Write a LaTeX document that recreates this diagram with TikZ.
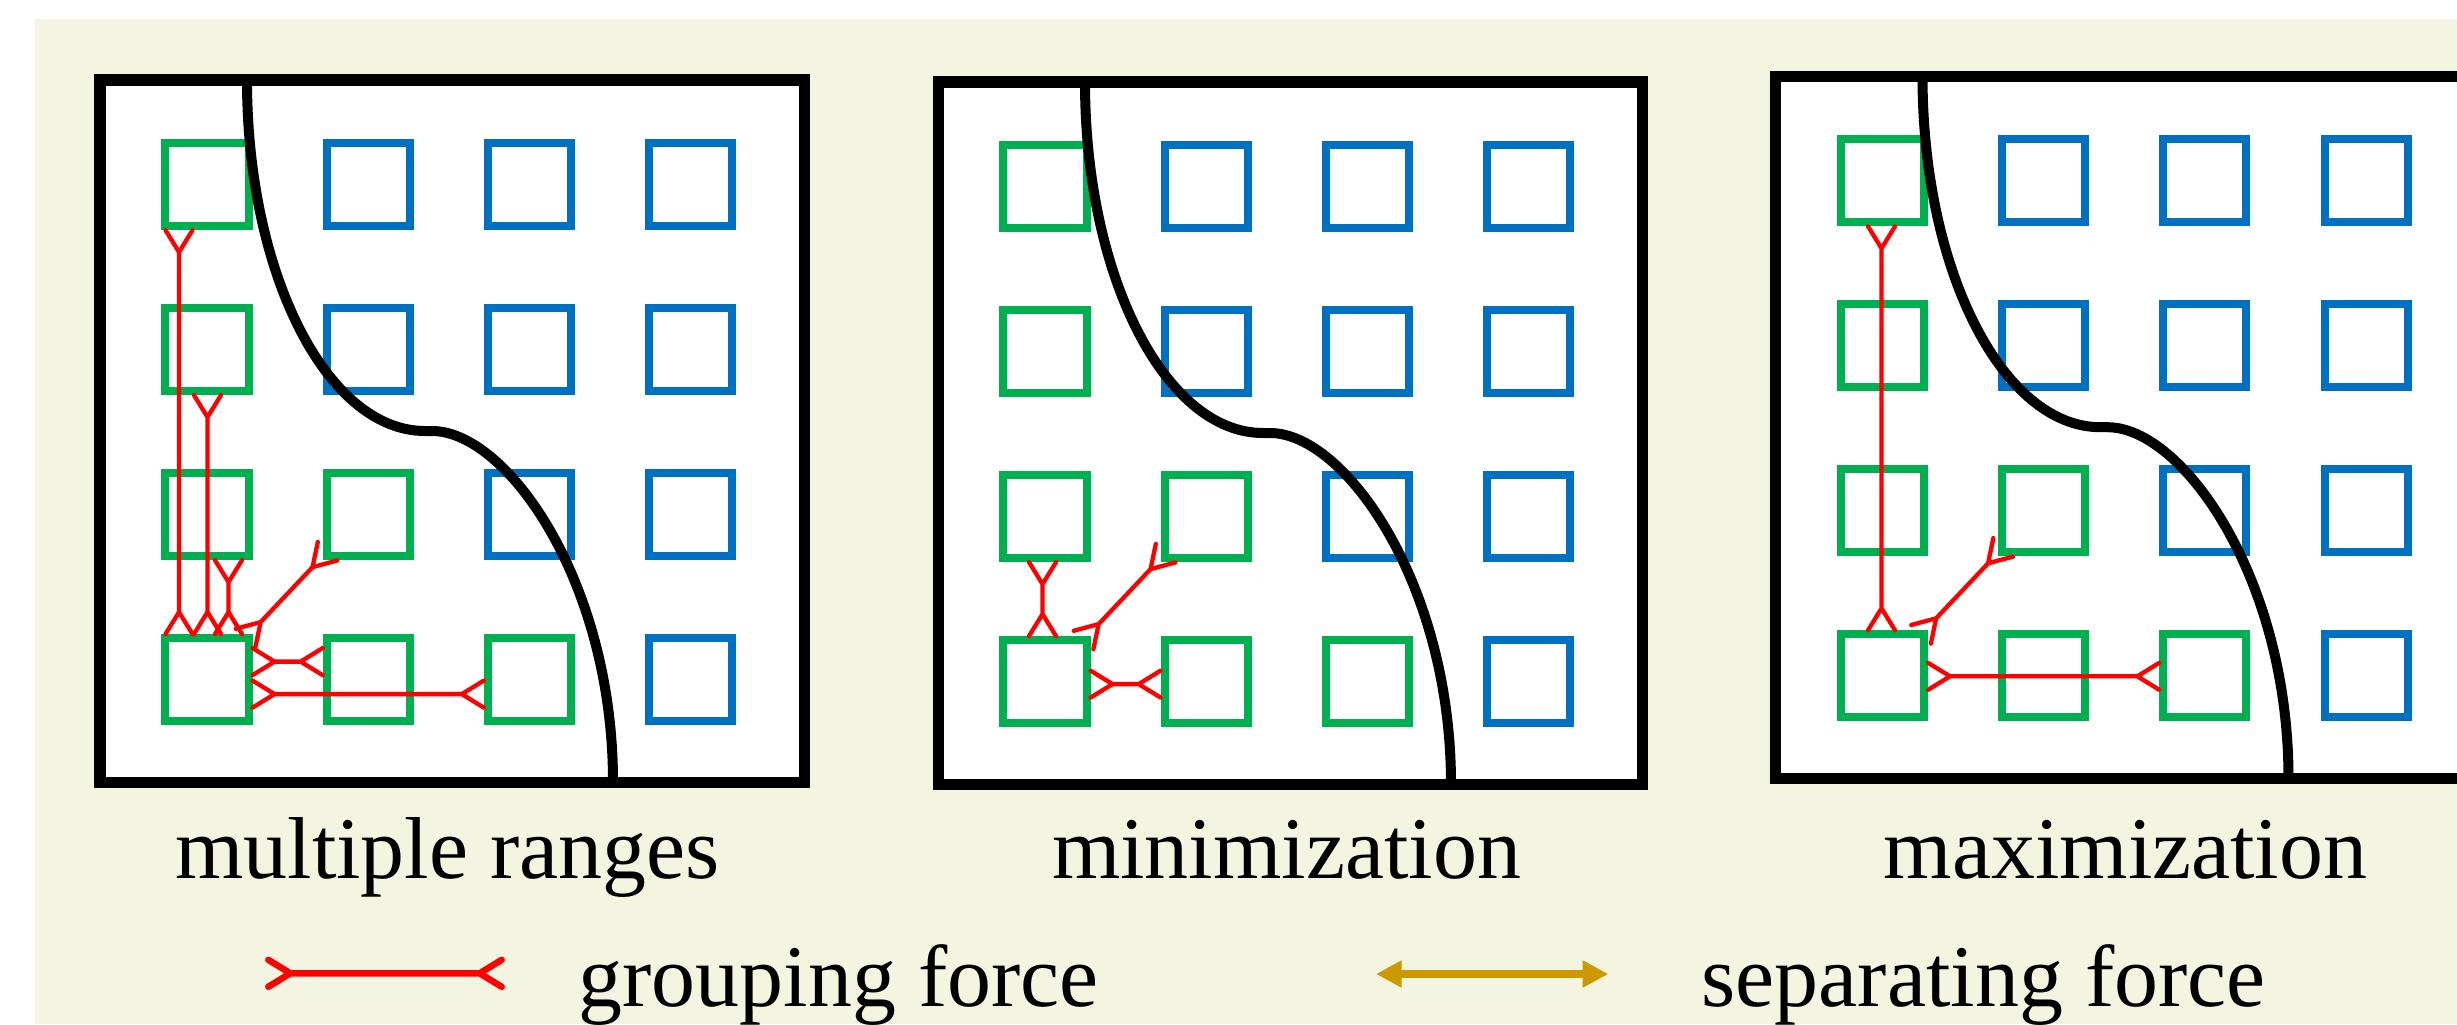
\documentclass[tikz,border=0pt]{standalone}
\usepackage{fontspec}
\setmainfont{Liberation Serif}
\usetikzlibrary{calc,arrows.meta}

\definecolor{bgcream}{HTML}{F3F5E1}
\definecolor{cgreen}{HTML}{00B050}
\definecolor{cblue}{HTML}{0070C0}
\definecolor{cgold}{HTML}{CC9900}
\definecolor{cred}{HTML}{FF0000}

\tikzset{
  cell/.style={shape=rectangle, draw, line width=0.08cm, minimum size=0.83cm,
    inner sep=0pt, outer sep=0.04cm},
  panelframe/.style={draw=black, fill=white, line width=0.11cm},
  splitline/.style={draw=black, line width=0.1cm},
  force/.style={draw=cred, line width=0.043cm, line cap=round, line join=round},
  lbl/.style={inner sep=0pt, font=\fontsize{25}{30}\selectfont},
}

% length and half width of the forked ends of a grouping force
\newcommand\tiplen{0.22cm}
\newcommand\tipwid{0.135cm}

% grouping force between two named coordinates: a bar with a fork at each end
\newcommand\gforce[3][]{%
  \draw[force,#1]
    ($(#2)!\tiplen!(#3)$) coordinate (#2-j) -- ($(#3)!\tiplen!(#2)$) coordinate (#3-j)
    ($(#2)!\tipwid!90:(#3)$) -- (#2-j) -- ($(#2)!\tipwid!-90:(#3)$)
    ($(#3)!\tipwid!90:(#2)$) -- (#3-j) -- ($(#3)!\tipwid!-90:(#2)$);
}

% one panel: frame, 4x4 grid of cells and the dividing curve
\newcommand\drawpanel[1]{%
  \draw[panelframe] (0,0) rectangle (704,702);
  \foreach \r/\ng in {1/1,2/1,3/2,4/3}{
    \foreach \c in {1,...,4}{
      \ifnum\c>\ng\relax\def\cc{cblue}\else\def\cc{cgreen}\fi
      \node[cell, draw=\cc] (#1-\r-\c) at ({107+161.17*(\c-1)},{104.6+165*(\r-1)}) {};
    }
  }
  \draw[splitline] (147,0) .. controls (147,194) and (227,351) .. (325,351)
    -- (332,351) .. controls (407,351) and (513,502) .. (513,702);
}

\begin{document}
\begin{tikzpicture}[x=0.01cm, y=-0.01cm]
  \useasboundingbox (0,0) rectangle (2457,1024);
  \clip (0,0) rectangle (2457,1024);
  \fill[white] (0,0) rectangle (2457,1024);
  \fill[bgcream] (35,19.3) rectangle (2457,1024);

  % panels
  \begin{scope}[shift={(100,80)}]
    \drawpanel{a}
  \end{scope}
  \begin{scope}[shift={(938,82)}]
    \drawpanel{b}
  \end{scope}
  \begin{scope}[shift={(1775.5,76.2)}]
    \drawpanel{c}
  \end{scope}

  % forces: multiple ranges
  \path ($(a-1-1.south)+(-28,0)$) coordinate (a-v1s) ($(a-4-1.north)+(-28,0)$) coordinate (a-v1e);
  \gforce{a-v1s}{a-v1e}
  \path ($(a-2-1.south)+(0.5,0)$) coordinate (a-v2s) ($(a-4-1.north)+(0.5,0)$) coordinate (a-v2e);
  \gforce{a-v2s}{a-v2e}
  \path ($(a-3-1.south)+(21.5,0)$) coordinate (a-v3s) ($(a-4-1.north)+(21.5,0)$) coordinate (a-v3e);
  \gforce{a-v3s}{a-v3e}
  \path ($(a-3-2.south west)+(5,-9)$) coordinate (a-ds) ($(a-4-1.north east)+(-7,4)$) coordinate (a-de);
  \gforce{a-ds}{a-de}
  \path ($(a-4-1.east)+(0,-18)$) coordinate (a-h1s) ($(a-4-2.west)+(0,-18)$) coordinate (a-h1e);
  \gforce{a-h1s}{a-h1e}
  \path ($(a-4-1.east)+(0,14.5)$) coordinate (a-h2s) ($(a-4-3.west)+(0,14.5)$) coordinate (a-h2e);
  \gforce{a-h2s}{a-h2e}

  % forces: minimization
  \path ($(b-3-1.south)+(-2.5,0)$) coordinate (b-vs) ($(b-4-1.north)+(-2.5,0)$) coordinate (b-ve);
  \gforce{b-vs}{b-ve}
  \path ($(b-3-2.south west)+(5,-9)$) coordinate (b-ds) ($(b-4-1.north east)+(-7,4)$) coordinate (b-de);
  \gforce{b-ds}{b-de}
  \path ($(b-4-1.east)+(0,2.5)$) coordinate (b-hs) ($(b-4-2.west)+(0,2.5)$) coordinate (b-he);
  \gforce{b-hs}{b-he}

  % forces: maximization
  \path ($(c-1-1.south)+(-1,0)$) coordinate (c-vs) ($(c-4-1.north)+(-1,0)$) coordinate (c-ve);
  \gforce{c-vs}{c-ve}
  \path ($(c-3-2.south west)+(5,-9)$) coordinate (c-ds) ($(c-4-1.north east)+(-7,4)$) coordinate (c-de);
  \gforce{c-ds}{c-de}
  \path ($(c-4-1.east)+(0,0.5)$) coordinate (c-hs) ($(c-4-3.west)+(0,0.5)$) coordinate (c-he);
  \gforce{c-hs}{c-he}

  % captions
  \node[lbl, anchor=base] (capa) at (447.5,878) {multiple ranges};
  \node[lbl, anchor=base] (capb) at (1286.5,878) {minimization};
  \node[lbl, anchor=base] (capc) at (2125.5,878) {maximization};

  % legend
  \coordinate (lgA) at (268.3,973.3);
  \coordinate (lgB) at (501.7,973.3);
  \gforce[line width=0.065cm]{lgA}{lgB}
  \node[lbl, anchor=base west] (lgtxt) at (578,1006) {grouping force};

  \coordinate (lsA) at (1376,974);
  \coordinate (lsB) at (1608.3,974);
  \draw[cgold, line width=0.077cm,
    {Triangle[length=0.257cm,width=0.256cm]}-{Triangle[length=0.257cm,width=0.256cm]}]
    (lsA) -- (lsB);
  \node[lbl, anchor=base west] (lstxt) at (1701,1006) {separating force};
\end{tikzpicture}
\end{document}
